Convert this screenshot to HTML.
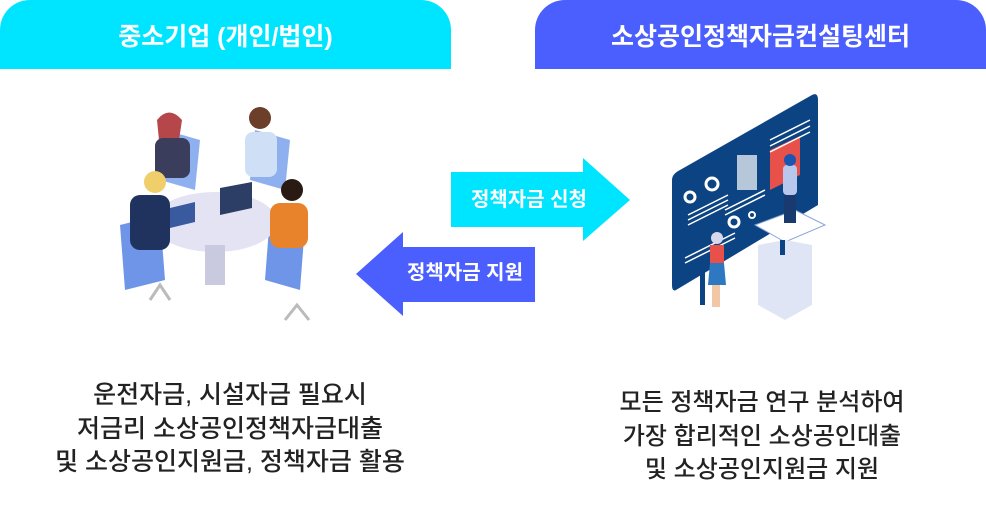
<!DOCTYPE html>
<html><head><meta charset="utf-8"><style>
body{margin:0;width:986px;height:532px;background:#fff;position:relative;overflow:hidden;font-family:"Liberation Sans","Noto Sans CJK KR",sans-serif}
.h{position:absolute;top:0;height:69px;color:#fff;font-size:25px;font-weight:bold;display:flex;align-items:center;justify-content:center;border-radius:30px 30px 0 0}
.t{position:absolute;text-align:center;font-size:25px;color:#222;font-weight:500;white-space:nowrap}
.t div{height:33.5px;line-height:33.5px}
.a{position:absolute;color:#fff;font-size:20px;font-weight:bold;white-space:nowrap;text-align:center;height:30px;line-height:30px}
</style></head><body>
<div class="h" style="left:0;width:451px;background:#00e5ff">중소기업 (개인/법인)</div>
<div class="h" style="left:535px;width:451px;background:#4b5fff">소상공인정책자금컨설팅센터</div>
<svg width="986" height="532" style="position:absolute;left:0;top:0">
<polygon points="451,172 583,172 583,158 630,200 583,241 583,227 451,227" fill="#00e5ff"/>
<polygon points="535,247 403,247 403,232 356,274 403,316 403,302 535,302" fill="#4b5fff"/>
<g>
<polygon points="120,225 160,215 165,280 125,290" fill="#6f95e8"/>
<polygon points="270,215 305,225 300,290 265,280" fill="#6f95e8"/>
<polygon points="165,130 200,140 195,190 160,180" fill="#8fb0ef"/>
<polygon points="255,130 290,140 285,190 250,180" fill="#8fb0ef"/>
<ellipse cx="215" cy="222" rx="62" ry="30" fill="#e3e3f4"/>
<rect x="205" y="245" width="20" height="40" fill="#c9c9e0"/>
<path d="M150 300 l10 -15 l10 15 M285 320 l12 -15 l12 15" stroke="#bbb" stroke-width="3" fill="none"/>
<circle cx="170" cy="125" r="11" fill="#e9b89a"/><path d="M157 120 q12 -15 25 0 l-3 20 h-20z" fill="#b5474a"/>
<rect x="155" y="138" width="35" height="40" rx="8" fill="#3a3d5c"/>
<circle cx="260" cy="118" r="11" fill="#6b3f2a"/><rect x="245" y="132" width="32" height="45" rx="8" fill="#cfe0f6"/>
<circle cx="155" cy="182" r="11" fill="#f0cf6a"/><rect x="130" y="195" width="40" height="55" rx="10" fill="#20335e"/>
<circle cx="292" cy="190" r="11" fill="#2a1a14"/><rect x="270" y="203" width="38" height="45" rx="10" fill="#e8822b"/>
<polygon points="220,188 252,182 252,208 220,215" fill="#2c3d66"/>
<polygon points="170,208 195,202 195,222 170,228" fill="#3a5aa0"/>
</g>
<g>
<path d="M680 170 L812 95 Q818 92 818 100 L818 205 L676 290 Q672 292 672 285 L672 180 Q672 174 680 170z" fill="#0c4382"/>
<rect x="700" y="270" width="5" height="35" fill="#0c4382"/>
<polygon points="770,150 800,136 800,175 770,190" fill="#e8504a"/>
<circle cx="712" cy="184" r="6" fill="none" stroke="#fff" stroke-width="3"/>
<circle cx="690" cy="197" r="5" fill="none" stroke="#fff" stroke-width="3"/>
<circle cx="734" cy="222" r="5" fill="none" stroke="#fff" stroke-width="3"/>
<circle cx="752" cy="215" r="3" fill="none" stroke="#fff" stroke-width="2"/>
<path d="M688 215 l40 -20 M688 220 l40 -20 M688 225 l40 -20 M725 210 l40 -20 M725 215 l40 -20 M770 140 l40 -20 M770 146 l40 -20 M770 152 l40 -20 M685 258 l50 -25 M685 263 l50 -25" stroke="#fff" stroke-width="1.5"/>
<rect x="737" y="155" width="20" height="35" fill="#fff" opacity=".7"/>
<polygon points="755,225 795,210 825,225 785,242" fill="#fff" stroke="#8aa4d6"/>
<polygon points="758,245 785,240 812,245 812,305 785,320 758,305" fill="#dfe5f5"/>
<rect x="780" y="240" width="5" height="15" fill="#0c4382"/>
<rect x="783" y="165" width="14" height="30" rx="4" fill="#b8c8ec"/>
<circle cx="790" cy="160" r="6" fill="#1a55b0"/>
<rect x="784" y="195" width="12" height="28" fill="#183a6e"/>
<circle cx="717" cy="238" r="6" fill="#d8d8ec"/>
<rect x="710" y="245" width="14" height="18" fill="#e8504a"/>
<polygon points="710,263 724,263 726,285 708,285" fill="#2e78c2"/>
<rect x="712" y="285" width="8" height="22" fill="#f2c7a6"/>
</g>
</svg>
<div class="a" style="left:429px;top:185px;width:200px">정책자금 신청</div>
<div class="a" style="left:365px;top:258px;width:200px">정책자금 지원</div>
<div class="t" style="left:30px;width:400px;top:379px"><div>운전자금, 시설자금 필요시</div><div>저금리 소상공인정책자금대출</div><div>및 소상공인지원금, 정책자금 활용</div></div>
<div class="t" style="left:562px;width:400px;top:386px;font-size:24px"><div>모든 정책자금 연구 분석하여</div><div>가장 합리적인 소상공인대출</div><div>및 소상공인지원금 지원</div></div>
</body></html>
